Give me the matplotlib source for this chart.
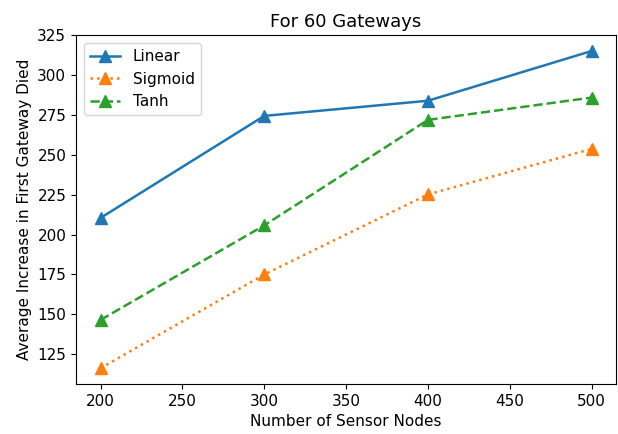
import matplotlib
matplotlib.use("Agg")
import matplotlib.pyplot as plt

nodes = [200, 300, 400, 500]
linear = [210.5, 274.5, 284, 315.2]
sigmoid = [116.2, 175, 225.2, 253.8]
tanh = [146.5, 205.8, 272, 286]

plt.rcParams['font.size'] = 11

fig, ax = plt.subplots(figsize=(6.18, 4.34), dpi=100)
ax.plot(nodes, linear, '-^', color='tab:blue', lw=1.8, markersize=8, label='Linear')
ax.plot(nodes, sigmoid, ':^', color='tab:orange', lw=1.8, markersize=8, label='Sigmoid')
ax.plot(nodes, tanh, '--^', color='tab:green', lw=1.8, markersize=8, label='Tanh')
ax.set_xlabel('Number of Sensor Nodes')
ax.set_ylabel('Average Increase in First Gateway Died')
ax.set_title('For 60 Gateways', fontsize=13)
ax.legend(loc='upper left')
fig.subplots_adjust(left=0.123, right=0.997, bottom=0.115, top=0.919)
fig.savefig('out.png')
